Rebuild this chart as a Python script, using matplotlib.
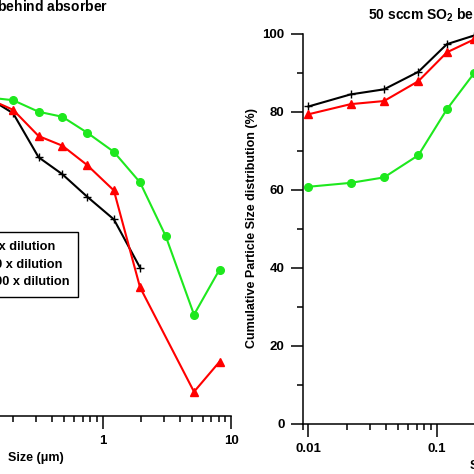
import numpy as np
import matplotlib
matplotlib.use('Agg')
import matplotlib.pyplot as plt
from matplotlib.ticker import FixedLocator, FixedFormatter, LogLocator, NullFormatter, MultipleLocator

plt.rcParams['font.family'] = ['Liberation Sans', 'DejaVu Sans']
plt.rcParams['font.weight'] = 'bold'
plt.rcParams['mathtext.fontset'] = 'custom'
plt.rcParams['mathtext.default'] = 'bf'
plt.rcParams['mathtext.bf'] = 'Liberation Sans:bold'
plt.rcParams['mathtext.rm'] = 'Liberation Sans:bold'

# ---- data ----
labels = ['10 x dilution', '100 x dilution', '1000 x dilution']
colors = ['black', '#ff0000', '#1ee81e']
markers = ['+', '^', 'o']

# left panel: size (um) and cumulative %
size_left = [0.12, 0.2, 0.316, 0.484, 0.754, 1.22, 1.95, 3.09, 5.14, 8.13]
left_black = [83.0, 78.4, 67.0, 62.6, 56.8, 50.9, 38.4]
left_red = [82.6, 79.3, 72.5, 70.0, 65.0, 58.4, 33.3, None, 6.2, 14.0]
left_green = [82.6, 81.8, 78.8, 77.5, 73.4, 68.4, 60.5, 46.6, 26.2, 37.9]

# right panel
size_right = [0.01, 0.0213, 0.0388, 0.0719, 0.12, 0.195]
right_black = [81.4, 84.5, 85.8, 90.3, 97.4, 99.6]
right_red = [79.4, 82.0, 82.8, 87.9, 95.3, 98.6]
right_green = [60.8, 61.8, 63.2, 68.9, 80.7, 89.9]

xticks = [0.01, 0.1, 1, 10]
xticklabels = ['0.01', '0.1', '1', '10']
yticks = [0, 20, 40, 60, 80, 100]

W = H = 474.0
fig = plt.figure(figsize=(4.74, 4.74), dpi=100)


def px_axes(x0, x1, ytop, ybot):
    return fig.add_axes([x0 / W, 1 - ybot / H, (x1 - x0) / W, (ybot - ytop) / H])


def style(ax):
    ax.set_xscale('log')
    ax.set_xlim(0.009, 10)
    ax.set_ylim(0, 100)
    ax.spines['top'].set_visible(False)
    ax.spines['right'].set_visible(False)
    for s in ['left', 'bottom']:
        ax.spines[s].set_linewidth(1.1)
    ax.xaxis.set_major_locator(FixedLocator(xticks))
    ax.xaxis.set_major_formatter(FixedFormatter(xticklabels))
    ax.xaxis.set_minor_locator(LogLocator(base=10, subs=np.arange(2, 10)))
    ax.xaxis.set_minor_formatter(NullFormatter())
    ax.yaxis.set_major_locator(FixedLocator(yticks))
    ax.yaxis.set_minor_locator(MultipleLocator(10))
    ax.tick_params(which='major', direction='out', length=9.2, width=1.1,
                   labelsize=9.5, pad=5.0)
    ax.tick_params(axis='y', which='major', length=9.0, pad=4.0)
    ax.tick_params(which='minor', direction='out', length=4.4, width=1.1)
    for t in ax.get_xticklabels() + ax.get_yticklabels():
        t.set_fontweight('bold')


decade = 128.3
ax1 = px_axes(102.8 - decade * np.log10(1 / 0.009), 231.1, 30, 415.7)
ax2 = px_axes(302.6, 302.6 + decade * np.log10(10 / 0.009), 34, 423.7)
style(ax1)
style(ax2)

lw = 1.5
series_left = [left_black, left_red, left_green]
series_right = [right_black, right_red, right_green]
handles = []
for i in range(3):
    ys = series_left[i]
    xs = size_left[:len(ys)]
    pts = [(x, y) for x, y in zip(xs, ys) if y is not None]
    h, = ax1.plot([p[0] for p in pts], [p[1] for p in pts], color=colors[i],
                  marker=markers[i], markersize=5.5 if markers[i] != '+' else 6,
                  markeredgewidth=1.0, lw=lw, clip_on=False)
    handles.append(h)
    ax2.plot(size_right, series_right[i], color=colors[i], marker=markers[i],
             markersize=5.5 if markers[i] != '+' else 6, markeredgewidth=1.0,
             lw=lw, clip_on=False)

leg = ax1.legend(handles, labels, loc='upper right',
                 bbox_to_anchor=(78 / W, 1 - 232 / H),
                 bbox_transform=fig.transFigure, borderaxespad=0,
                 fancybox=False, frameon=True, framealpha=1,
                 edgecolor='black', prop={'size': 9.2, 'weight': 'bold'},
                 labelspacing=0.45, borderpad=0.7, handlelength=2.5)
leg.get_frame().set_linewidth(1.0)

# titles and axis labels
fig.text(108.3 / W, 1 - 11.7 / H, '50 sccm SO$_2$ behind absorber',
         ha='right', va='baseline', fontsize=10, fontweight='bold')
fig.text(368.3 / W, 1 - 20 / H, '50 sccm SO$_2$ behind absorber',
         ha='left', va='baseline', fontsize=10, fontweight='bold')
fig.text(35.5 / W, 1 - 458 / H, 'Size (\u03bcm)', ha='center', va='center',
         fontsize=9, fontweight='bold')
fig.text(498 / W, 1 - 466 / H, 'Size (\u03bcm)', ha='center', va='center',
         fontsize=9, fontweight='bold')
fig.text(252.5 / W, 1 - 228 / H, 'Cumulative Particle Size distribution (%)',
         ha='center', va='center', rotation=90, fontsize=9, fontweight='bold')

fig.savefig('out.png', dpi=100)
